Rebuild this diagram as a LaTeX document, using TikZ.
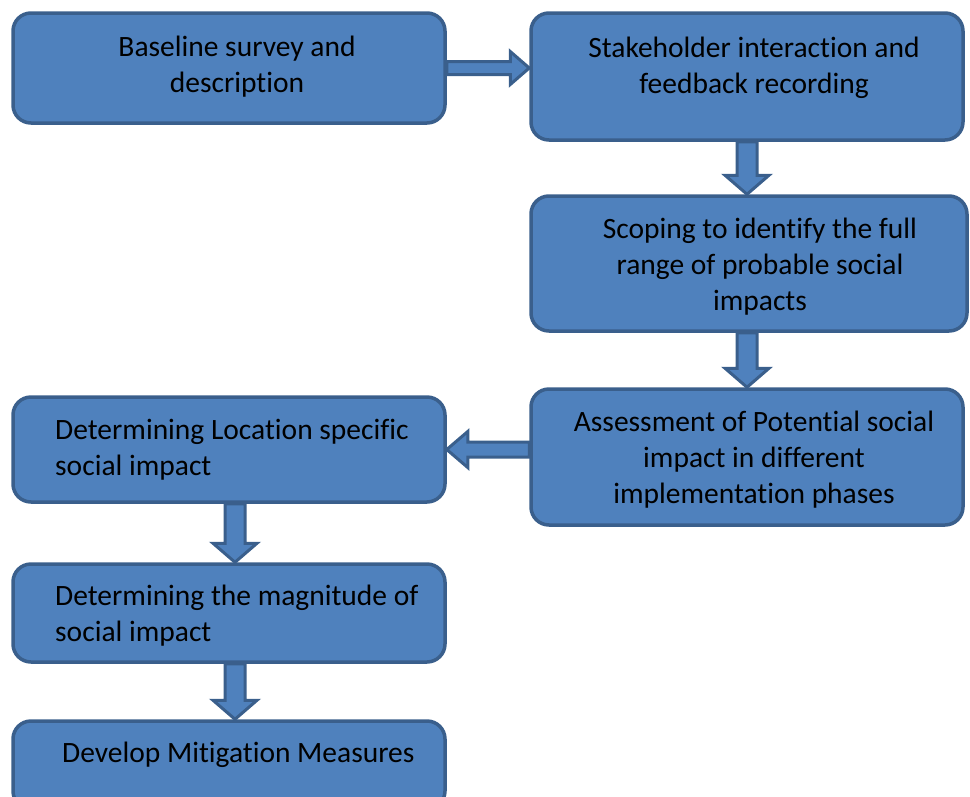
\documentclass[tikz,border=0pt]{standalone}
\usepackage{fontspec}
\setmainfont[Ligatures=NoCommon]{Carlito}
\usetikzlibrary{calc}
\definecolor{boxfill}{HTML}{4F81BD}
\definecolor{boxline}{HTML}{3A5F8C}
\tikzset{
  box/.style={draw=boxline, fill=boxfill, line width=3.5pt, rounded corners=18pt, inner sep=0pt},
  txt/.style={font=\fontsize{29.5}{36}\selectfont, align=center, inner sep=0pt, text=black},
  ltxt/.style={txt, align=left, anchor=west},
  barrow/.style={draw=boxline, fill=boxfill, line width=3pt, line join=miter}
}
% #1 shaft half width, #2 head half width, #3 head length, #4 from, #5 to
\newcommand\blockarr[5]{%
  \coordinate (hh) at ($(#5)!#3!(#4)$);
  \draw[barrow] ($(#4)!#1!90:(#5)$) -- ($(hh)!#1!90:(#5)$) -- ($(hh)!#2!90:(#5)$) -- (#5)
    -- ($(hh)!#2!-90:(#5)$) -- ($(hh)!#1!-90:(#5)$) -- ($(#4)!#1!-90:(#5)$) -- cycle;}
\begin{document}
\begin{tikzpicture}[x=1pt,y=-1pt]
\useasboundingbox (0,0) rectangle (970,796);
% boxes
\node[box, minimum width=432pt, minimum height=110pt] (b1) at (229,68) {};
\node[box, minimum width=432pt, minimum height=127pt] (b2) at (747,76.5) {};
\node[box, minimum width=436pt, minimum height=135pt] (b3) at (749,263.5) {};
\node[box, minimum width=432pt, minimum height=136pt] (b4) at (747,457) {};
\node[box, minimum width=432pt, minimum height=105pt] (b5) at (229,449.5) {};
\node[box, minimum width=432pt, minimum height=98pt] (b6) at (229,613) {};
\node[box, minimum width=432pt, minimum height=88pt] (b7) at (229,765) {};
% texts
\node[txt] (t1) at (237,67) {Baseline survey and\\description};
\node[txt] (t2) at (754,67.5) {Stakeholder interaction and\\feedback recording};
\node[txt] (t3) at (760,267) {Scoping to identify the full\\range of probable social\\impacts};
\node[txt] (t4) at (754,459.5) {Assessment of Potential social\\impact in different\\implementation phases};
\node[ltxt] (t5) at (55,449.5) {Determining Location specific\\social impact};
\node[ltxt] (t6) at (55,615.5) {Determining the magnitude of\\social impact};
\node[ltxt] (t7) at (62,755) {Develop Mitigation Measures};
% connectors
\coordinate (a1s) at (b1.east);
\coordinate (a1e) at (b2.west |- b1.east);
\blockarr{6.5pt}{16.5pt}{19pt}{a1s}{a1e}
\coordinate (a2s) at (b2.south);
\coordinate (a2e) at (b2.south |- b3.north);
\blockarr{10pt}{22pt}{19pt}{a2s}{a2e}
\coordinate (a3s) at (b2.south |- b3.south);
\coordinate (a3e) at (b2.south |- b4.north);
\blockarr{10pt}{22pt}{19pt}{a3s}{a3e}
\coordinate (a4s) at (b4.west |- b5.east);
\coordinate (a4e) at (b5.east);
\blockarr{7.5pt}{18pt}{21pt}{a4s}{a4e}
\coordinate (a5s) at ([xshift=6pt]b5.south);
\coordinate (a5e) at ([xshift=6pt]b6.north);
\blockarr{10pt}{22pt}{19pt}{a5s}{a5e}
\coordinate (a6s) at ([xshift=6pt]b6.south);
\coordinate (a6e) at ([xshift=6pt]b7.north);
\blockarr{10pt}{22pt}{19pt}{a6s}{a6e}
\end{tikzpicture}
\end{document}
